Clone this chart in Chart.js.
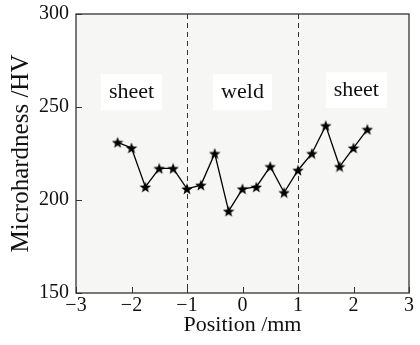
<!DOCTYPE html>
<html>
<head>
<meta charset="utf-8">
<script src="https://cdn.jsdelivr.net/npm/chart.js@4/dist/chart.umd.min.js"></script>
<style>
  html, body { margin: 0; padding: 0; background: #ffffff; }
  #wrap { width: 420px; height: 345px; position: relative; }
</style>
</head>
<body>
<div id="wrap"><canvas id="hardnessChart"></canvas></div>
<script>
  // Data
  const positions = [-2.25, -2, -1.75, -1.5, -1.25, -1, -0.75, -0.5, -0.25, 0, 0.25, 0.5, 0.75, 1, 1.25, 1.5, 1.75, 2, 2.25];
  const hardness = [231, 228, 207, 217, 217, 206, 208, 225, 194, 206, 207, 218, 204, 216, 225, 240, 218, 228, 238];
  const boundaries = [-1, 1];
  const regionLabels = ["sheet", "weld", "sheet"];
  const regionX = [-2, 0, 2.05];
  const regionY = [258, 258, 259];
  const xTicks = [-3, -2, -1, 0, 1, 2, 3];
  const yTicks = [150, 200, 250, 300];

  const serif = "'Liberation Serif', 'DejaVu Serif', serif";

  // filled five point star used as point style
  function makeStar(size) {
    const c = document.createElement("canvas");
    c.width = size;
    c.height = size;
    const g = c.getContext("2d");
    const cx = size / 2, cy = size / 2 + 0.6;
    const outer = size / 2, inner = outer * 0.42;
    g.beginPath();
    for (let i = 0; i < 10; i++) {
      const r = i % 2 === 0 ? outer : inner;
      const a = -Math.PI / 2 + (i * Math.PI) / 5;
      const px = cx + r * Math.cos(a);
      const py = cy + r * Math.sin(a);
      if (i === 0) g.moveTo(px, py);
      else g.lineTo(px, py);
    }
    g.closePath();
    g.fillStyle = "#000";
    g.fill();
    return c;
  }
  const star = makeStar(12);

  const framePlugin = {
    id: "frame",
    beforeDraw(chart) {
      const { ctx, chartArea: a } = chart;
      ctx.save();
      ctx.fillStyle = "#f6f6f4";
      ctx.fillRect(a.left, a.top, a.right - a.left, a.bottom - a.top);
      ctx.restore();
    },
    beforeDatasetsDraw(chart) {
      const { ctx, chartArea: a, scales } = chart;
      ctx.save();
      // dashed region boundaries
      ctx.strokeStyle = "#333";
      ctx.lineWidth = 1;
      ctx.setLineDash([5, 4]);
      boundaries.forEach((b) => {
        const x = Math.round(scales.x.getPixelForValue(b)) + 0.5;
        ctx.beginPath();
        ctx.moveTo(x, a.top);
        ctx.lineTo(x, a.bottom);
        ctx.stroke();
      });
      ctx.setLineDash([]);
      // region labels on white boxes
      ctx.font = "22px " + serif;
      ctx.textAlign = "center";
      ctx.textBaseline = "middle";
      regionLabels.forEach((txt, i) => {
        const x = scales.x.getPixelForValue(regionX[i]);
        const y = scales.y.getPixelForValue(regionY[i]);
        const w = ctx.measureText(txt).width + 16;
        ctx.fillStyle = "#ffffff";
        ctx.fillRect(x - w / 2, y - 18, w, 36);
        ctx.fillStyle = "#111";
        ctx.fillText(txt, x, y);
      });
      ctx.restore();
    },
    afterDraw(chart) {
      const { ctx, chartArea: a, scales } = chart;
      ctx.save();
      ctx.strokeStyle = "#333";
      ctx.lineWidth = 1.3;
      ctx.strokeRect(a.left, a.top, a.right - a.left, a.bottom - a.top);
      // inward ticks
      ctx.lineWidth = 1;
      xTicks.forEach((t) => {
        const x = Math.round(scales.x.getPixelForValue(t)) + 0.5;
        ctx.beginPath();
        ctx.moveTo(x, a.bottom);
        ctx.lineTo(x, a.bottom - 6);
        ctx.stroke();
      });
      yTicks.forEach((t) => {
        const y = Math.round(scales.y.getPixelForValue(t)) + 0.5;
        ctx.beginPath();
        ctx.moveTo(a.left, y);
        ctx.lineTo(a.left + 6, y);
        ctx.stroke();
      });
      ctx.restore();
    },
  };

  new Chart(document.getElementById("hardnessChart"), {
    type: "scatter",
    data: {
      datasets: [
        {
          data: positions.map((p, i) => ({ x: p, y: hardness[i] })),
          showLine: true,
          borderColor: "#000",
          borderWidth: 1.3,
          pointStyle: star,
          pointRadius: 6,
          pointHoverRadius: 6,
        },
      ],
    },
    options: {
      responsive: true,
      maintainAspectRatio: false,
      animation: false,
      devicePixelRatio: 1,
      layout: { padding: { top: 14, right: 11, left: 0, bottom: 0 } },
      plugins: { legend: { display: false }, tooltip: { enabled: false } },
      scales: {
        x: {
          type: "linear",
          min: -3,
          max: 3,
          afterBuildTicks: (s) => { s.ticks = xTicks.map((v) => ({ value: v })); },
          afterFit: (s) => {
            s.height = 52;
            s.paddingLeft = 0;
            s.paddingRight = 0;
          },
          grid: { display: false, drawTicks: false },
          border: { display: false },
          ticks: {
            color: "#111",
            padding: 1,
            font: { family: serif, size: 20 },
            callback: (v) => (v < 0 ? "\u2212" + Math.abs(v) : String(v)),
          },
          title: {
            display: true,
            text: "Position /mm",
            color: "#111",
            padding: { top: 0, bottom: 7 },
            font: { family: serif, size: 22 },
          },
        },
        y: {
          min: 150,
          max: 300,
          afterBuildTicks: (s) => { s.ticks = yTicks.map((v) => ({ value: v })); },
          afterFit: (s) => {
            s.width = 76;
            s.paddingTop = 0;
            s.paddingBottom = 0;
          },
          grid: { display: false, drawTicks: false },
          border: { display: false },
          ticks: {
            color: "#111",
            padding: 7,
            font: { family: serif, size: 20 },
          },
          title: {
            display: true,
            text: "Microhardness /HV",
            color: "#111",
            padding: { top: 6, bottom: 0 },
            font: { family: serif, size: 25 },
          },
        },
      },
    },
    plugins: [framePlugin],
  });
</script>
</body>
</html>
